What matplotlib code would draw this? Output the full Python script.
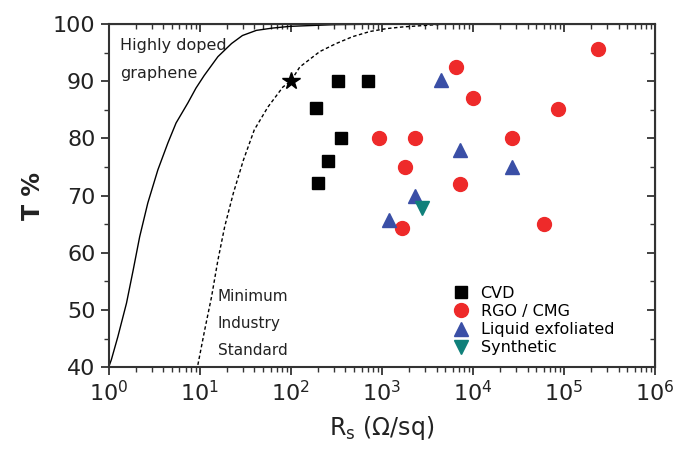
import matplotlib
matplotlib.use("Agg")
import matplotlib.pyplot as plt
from matplotlib.ticker import LogLocator, MultipleLocator, NullFormatter

# curves: (Rs, T%)
doped_rs = [1.0, 1.07, 1.26, 1.57, 1.86, 2.19, 2.69, 3.47, 4.47, 5.50, 7.41,
            9.1, 11.2, 15.85, 22.4, 29.5, 42.0, 63.1, 97.7, 300, 1000]
doped_t = [40.0, 41.3, 45.3, 51.2, 57.0, 62.8, 68.7, 74.5, 79.2, 82.7, 86.2,
           88.8, 91.0, 94.3, 96.6, 98.0, 98.9, 99.3, 99.6, 99.9, 100.0]
standard_rs = [9.55, 11.35, 13.5, 15.85, 18.84, 23.4, 30.2, 39.8, 56.2, 82.2,
               100, 125.9, 209, 316, 479, 741, 1122, 1698, 5000]
standard_t = [40.4, 46.5, 52.3, 58.7, 64.6, 70.4, 76.2, 81.5, 85.5, 89.0,
              90.0, 92.5, 95.2, 96.6, 97.8, 98.7, 99.2, 99.5, 100.0]

star_rs = [100]
star_t = [90]

cvd_rs = [330, 700, 190, 355, 260, 200]
cvd_t = [90, 90, 85.3, 80, 76, 72.2]

rgo_rs = [2.4e5, 6600, 1.0e4, 8.6e4, 930, 2300, 2.7e4, 1800, 7200, 1660, 6.0e4]
rgo_t = [95.6, 92.5, 87, 85.1, 80, 80, 80, 75, 72, 64.3, 65]

liquid_rs = [4500, 7200, 2.7e4, 2300, 1200]
liquid_t = [90.2, 78.0, 75.0, 70.0, 65.7]

synth_rs = [2750]
synth_t = [67.8]

fig = plt.figure(figsize=(6.75, 4.63), dpi=100)
ax = fig.add_axes([0.161, 0.207, 0.809, 0.741])

ax.plot(doped_rs, doped_t, color="black", lw=1.0)
ax.plot(standard_rs, standard_t, color="black", lw=1.0, ls=(0, (2.5, 1.8)))
ax.plot(star_rs, star_t, marker="*", color="black", ms=13, ls="none")

ax.plot(cvd_rs, cvd_t, "s", color="black", ms=9, ls="none", label="CVD")
ax.plot(rgo_rs, rgo_t, "o", color="#ee2a2a", ms=10, ls="none", label="RGO / CMG")
ax.plot(liquid_rs, liquid_t, "^", color="#3a4fa6", ms=10, ls="none",
        label="Liquid exfoliated")
ax.plot(synth_rs, synth_t, "v", color="#10807a", ms=10, ls="none",
        label="Synthetic")

ax.set_xscale("log")
ax.set_xlim(1, 1e6)
ax.set_ylim(40, 100)
ax.xaxis.set_major_locator(LogLocator(base=10, numticks=10))
ax.xaxis.set_minor_locator(LogLocator(base=10, subs=range(2, 10), numticks=100))
ax.xaxis.set_minor_formatter(NullFormatter())
ax.yaxis.set_major_locator(MultipleLocator(10))
ax.yaxis.set_minor_locator(MultipleLocator(5))

for side in ax.spines.values():
    side.set_linewidth(1.5)
    side.set_color("#333333")
ax.tick_params(which="major", direction="out", length=6, width=1.3,
               labelsize=16, colors="#333333", labelcolor="#222222")
ax.tick_params(which="minor", direction="out", length=3.5, width=1.0,
               colors="#333333")

top = ax.secondary_xaxis("top")
top.xaxis.set_major_locator(LogLocator(base=10, numticks=10))
top.xaxis.set_minor_locator(LogLocator(base=10, subs=range(2, 10), numticks=100))
top.xaxis.set_minor_formatter(NullFormatter())
top.tick_params(which="both", direction="in", labeltop=False, colors="#333333")
top.tick_params(which="major", length=6, width=1.3)
top.tick_params(which="minor", length=3.5, width=1.0)
right = ax.secondary_yaxis("right")
right.yaxis.set_major_locator(MultipleLocator(10))
right.yaxis.set_minor_locator(MultipleLocator(5))
right.tick_params(which="both", direction="in", labelright=False, colors="#333333")
right.tick_params(which="major", length=6, width=1.3)
right.tick_params(which="minor", length=3.5, width=1.0)

ax.set_xlabel(r"R$_\mathregular{s}$ ($\Omega$/sq)", fontsize=17, color="#222222",
              labelpad=6)
ax.set_ylabel("T %", fontsize=17, fontweight="bold", color="#222222", labelpad=6)

ax.text(1.32, 96.3, "Highly doped", fontsize=11.5, va="center", color="#222222")
ax.text(1.32, 91.4, "graphene", fontsize=11.5, va="center", color="#222222")
ax.text(15.8, 52.3, "Minimum", fontsize=11, va="center", color="#222222")
ax.text(15.8, 47.6, "Industry", fontsize=11, va="center", color="#222222")
ax.text(15.8, 43.0, "Standard", fontsize=11, va="center", color="#222222")

ax.legend(loc="upper left", bbox_to_anchor=(0.605, 0.265), frameon=False,
          fontsize=11.5, handletextpad=0.5, labelspacing=0.2, borderpad=0.1,
          handlelength=1.5)

fig.savefig("out.png", dpi=100)
